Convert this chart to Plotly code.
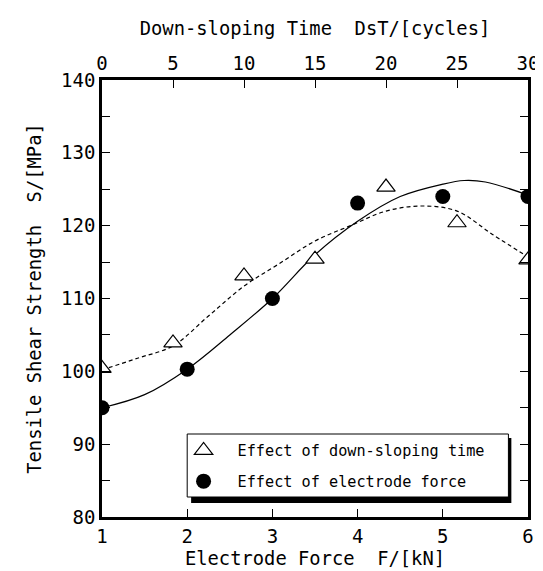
import plotly.graph_objects as go

# Electrode force effect (bottom axis, kN)
force_kN = [1, 2, 3, 4, 5, 6]
strength_force = [95.0, 100.3, 110.0, 123.1, 124.0, 124.0]

# Down-sloping time effect (top axis, cycles)
dst_cycles = [0, 5, 10, 15, 20, 25, 30]
strength_dst = [100.4, 103.9, 113.1, 115.4, 125.3, 120.4, 115.3]

# Fitted trend curves
fit_force_x = [1, 1.5, 2, 2.5, 3, 3.5, 4, 4.5, 5, 5.25, 5.5, 6]
fit_force_y = [95.0, 96.8, 100.3, 105.0, 110.0, 116.0, 120.6, 124.0, 125.7, 126.2, 126.0, 124.2]
fit_dst_x = [0, 2.5, 5, 7.5, 10, 12.5, 15, 17.5, 20, 22.5, 25, 27.5, 30]
fit_dst_y = [100.2, 101.8, 103.5, 107.6, 111.7, 114.8, 117.9, 120.0, 122.0, 122.7, 122.0, 118.8, 115.7]

y_ticks = [80, 85, 90, 95, 100, 105, 110, 115, 120, 125, 130, 135, 140]
y_ticktext = [str(v) if v % 10 == 0 else "" for v in y_ticks]

FONT = "DejaVu Sans Mono"
W, H = 543, 571
ML, MR, MT, MB = 94, 14, 72, 62
PW, PH = W - ML - MR, H - MT - MB


def px_x(px):
    return (px - ML) / PW


def px_y(py):
    return (H - MB - py) / PH


fig = go.Figure()

fig.add_trace(go.Scatter(x=fit_force_x, y=fit_force_y, mode="lines", line_shape="spline",
                         line=dict(color="black", width=1.2), showlegend=False, hoverinfo="skip"))
fig.add_trace(go.Scatter(x=fit_dst_x, y=fit_dst_y, mode="lines", line_shape="spline", xaxis="x2",
                         line=dict(color="black", width=1.2, dash="4px,3px"), showlegend=False, hoverinfo="skip"))

fig.add_trace(go.Scatter(x=dst_cycles, y=strength_dst, mode="markers", xaxis="x2",
                         name="Effect of down-sloping time", legendgroup="a",
                         marker=dict(symbol="triangle-up", size=16, color="white",
                                     line=dict(color="black", width=1.2))))
fig.add_trace(go.Scatter(x=force_kN, y=strength_force, mode="markers",
                         name="Effect of electrode force", legendgroup="b",
                         marker=dict(symbol="circle", size=15, color="black")))

axis_common = dict(showgrid=False, zeroline=False, showline=True, linecolor="black", linewidth=2.5,
                   ticks="inside", ticklen=8, tickwidth=1.2, tickcolor="black",
                   tickfont=dict(family=FONT, size=19, color="black"))
title_font = dict(family=FONT, size=18.8, color="black")

fig.update_layout(
    width=W, height=H,
    margin=dict(l=ML, r=MR, t=MT, b=MB),
    paper_bgcolor="white", plot_bgcolor="white",
    font=dict(family=FONT, color="black"),
    xaxis=dict(range=[1, 6], tickvals=force_kN, ticktext=[str(v) for v in force_kN],
               title=dict(text="Electrode Force\u00a0\u00a0F/[kN]", font=title_font, standoff=7),
               **axis_common),
    xaxis2=dict(range=[0, 30], overlaying="x", side="top", anchor="y", tickvals=dst_cycles,
                ticktext=[str(v) for v in dst_cycles],
                title=dict(text="Down-sloping Time\u00a0\u00a0DsT/[cycles]", font=title_font, standoff=12),
                **axis_common),
    yaxis=dict(range=[80, 140], tickvals=y_ticks, ticktext=y_ticktext, mirror="ticks",
               title=dict(text="Tensile Shear Strength\u00a0\u00a0S/[MPa]", font=title_font, standoff=15),
               **axis_common),
    legend=dict(x=px_x(163), y=px_y(426), xanchor="left", yanchor="top",
                bgcolor="rgba(0,0,0,0)", borderwidth=0,
                font=dict(family=FONT, size=15.2, color="black"),
                traceorder="grouped", tracegroupgap=8, itemwidth=58),
    shapes=[
        dict(type="rect", xref="paper", yref="paper",
             x0=px_x(185), x1=px_x(512), y0=px_y(495), y1=px_y(430),
             fillcolor="black", line=dict(width=0), layer="above"),
        dict(type="rect", xref="paper", yref="paper",
             x0=px_x(181), x1=px_x(509), y0=px_y(489), y1=px_y(426),
             fillcolor="white", line=dict(color="black", width=1), layer="above"),
    ],
)

fig.write_html("out.html")
